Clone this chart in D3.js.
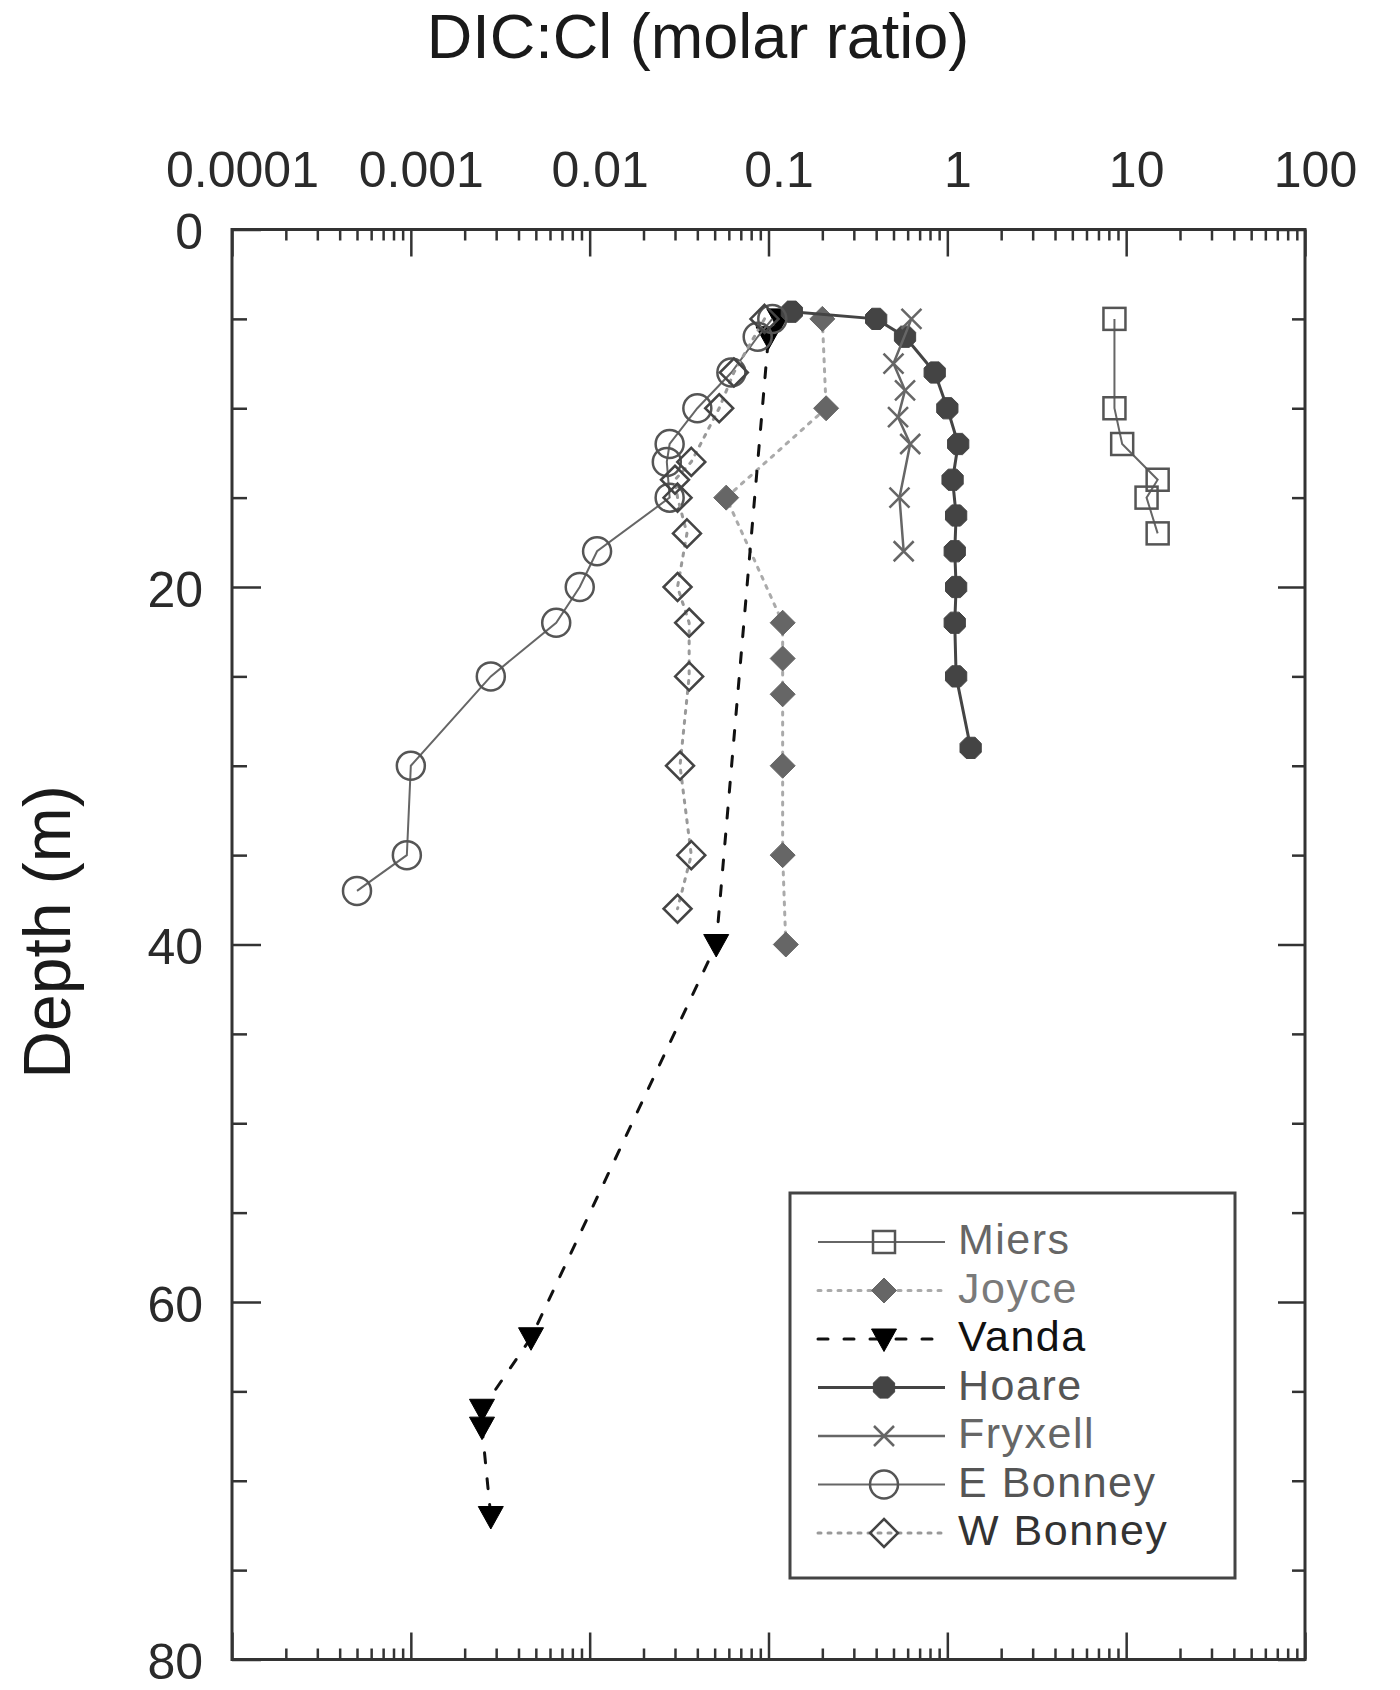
<!DOCTYPE html>
<html>
<head>
<meta charset="utf-8">
<script src="https://cdn.jsdelivr.net/npm/d3@7"></script>
<style>
  html, body { margin: 0; padding: 0; background: #fff; }
  svg { display: block; }
  text { font-family: "Liberation Sans", Arial, Helvetica, sans-serif; }
</style>
</head>
<body>
<svg id="chart" width="1400" height="1690"></svg>
<script>
// ---------------- DATA ----------------
const xTickValues = [0.0001, 0.001, 0.01, 0.1, 1, 10, 100];
const xTickLabels = ["0.0001", "0.001", "0.01", "0.1", "1", "10", "100"];
const yTickValues = [0, 20, 40, 60, 80];
const yTickLabels = ["0", "20", "40", "60", "80"];

const miersDepth = [5, 10, 12, 14, 15, 17];
const miersRatio = [8.6, 8.6, 9.5, 15, 13, 15];

const joyceDepth = [5, 10, 15, 22, 24, 26, 30, 35, 40];
const joyceRatio = [0.2, 0.21, 0.058, 0.12, 0.12, 0.12, 0.12, 0.12, 0.125];

const vandaDepth = [5, 6, 40, 62, 66, 67, 72];
const vandaRatio = [0.115, 0.1, 0.051, 0.0047, 0.0025, 0.0025, 0.0028];

const hoareDepth = [4.6, 5, 6, 8, 10, 12, 14, 16, 18, 20, 22, 25, 29];
const hoareRatio = [0.135, 0.40, 0.58, 0.85, 1.0, 1.15, 1.07, 1.12, 1.1, 1.12, 1.1, 1.12, 1.35];

const fryxellDepth = [5, 7.5, 9, 10.5, 12, 15, 18];
const fryxellRatio = [0.63, 0.5, 0.58, 0.53, 0.62, 0.54, 0.57];

const eBonneyDepth = [5, 6, 8, 10, 12, 13, 15, 18, 20, 22, 25, 30, 35, 37];
const eBonneyRatio = [0.105, 0.087, 0.062, 0.040, 0.028, 0.027, 0.028, 0.011, 0.0088, 0.0065, 0.0028, 0.001, 0.00095, 0.0005];

const wBonneyDepth = [5, 8, 10, 13, 14, 15, 17, 20, 22, 25, 30, 35, 38];
const wBonneyRatio = [0.095, 0.064, 0.053, 0.037, 0.03, 0.031, 0.035, 0.031, 0.036, 0.036, 0.032, 0.037, 0.031];

const seriesNames = ["Miers", "Joyce", "Vanda", "Hoare", "Fryxell", "E Bonney", "W Bonney"];

// ---------------- STYLES ----------------
const styles = {
  "Miers":    { depth: miersDepth,   ratio: miersRatio,   marker: "square",   line: "#666", lw: 2,   dash: null,    mStroke: "#555", mFill: "none", text: "#666" },
  "Joyce":    { depth: joyceDepth,   ratio: joyceRatio,   marker: "diamondF", line: "#aaa", lw: 3,   dash: "3,7",   mStroke: "#666", mFill: "#666", text: "#7a7a7a" },
  "Vanda":    { depth: vandaDepth,   ratio: vandaRatio,   marker: "triDown",  line: "#111", lw: 3,   dash: "10,16", mStroke: "#000", mFill: "#000", text: "#111" },
  "Hoare":    { depth: hoareDepth,   ratio: hoareRatio,   marker: "octF",     line: "#444", lw: 3,   dash: null,    mStroke: "#444", mFill: "#444", text: "#555" },
  "Fryxell":  { depth: fryxellDepth, ratio: fryxellRatio, marker: "cross",    line: "#666", lw: 2.5, dash: null,    mStroke: "#666", mFill: "none", text: "#666" },
  "E Bonney": { depth: eBonneyDepth, ratio: eBonneyRatio, marker: "circle",   line: "#666", lw: 2,   dash: null,    mStroke: "#555", mFill: "none", text: "#555" },
  "W Bonney": { depth: wBonneyDepth, ratio: wBonneyRatio, marker: "diamond",  line: "#999", lw: 3,   dash: "3,7",   mStroke: "#444", mFill: "none", text: "#333" }
};

// ---------------- LAYOUT ----------------
const plotL = 232, plotR = 1305, plotT = 229.5, plotB = 1659.5;
const svg = d3.select("#chart");
svg.append("rect").attr("width", 1400).attr("height", 1690).attr("fill", "#fff");

const x = d3.scaleLog().domain([0.0001, 100]).range([plotL, plotR]);
const y = d3.scaleLinear().domain([0, 80]).range([plotT, plotB]);

const axisColor = "#333";
const tickFont = 50;

// minor tick positions from the scale itself
const xMinor = x.ticks().filter(v => !xTickValues.some(m => Math.abs(Math.log10(v) - Math.log10(m)) < 1e-9));
const yMinor = y.ticks(16).filter(v => !yTickValues.includes(v));

function styleAxis(g) {
  g.select(".domain").remove();
  g.selectAll(".tick line").attr("stroke", axisColor).attr("stroke-width", 2.5);
  g.selectAll(".tick text").attr("fill", "#2a2a2a").style("font-size", tickFont + "px")
    .style("font-family", "'Liberation Sans', Arial, Helvetica, sans-serif");
}

// Top axis (labels above, ticks inward)
svg.append("g").attr("transform", `translate(0,${plotT})`)
  .call(d3.axisTop(x).tickValues(xTickValues).tickFormat((d, i) => xTickLabels[i]).tickSizeInner(-27).tickSizeOuter(0).tickPadding(43))
  .call(styleAxis)
  .call(g => g.selectAll(".tick text").attr("x", 10));
svg.append("g").attr("transform", `translate(0,${plotT})`)
  .call(d3.axisTop(x).tickValues(xMinor).tickFormat("").tickSizeInner(-11).tickSizeOuter(0))
  .call(styleAxis);

// Bottom axis (ticks only)
svg.append("g").attr("transform", `translate(0,${plotB})`)
  .call(d3.axisBottom(x).tickValues(xTickValues).tickFormat("").tickSizeInner(-27).tickSizeOuter(0))
  .call(styleAxis);
svg.append("g").attr("transform", `translate(0,${plotB})`)
  .call(d3.axisBottom(x).tickValues(xMinor).tickFormat("").tickSizeInner(-11).tickSizeOuter(0))
  .call(styleAxis);

// Left axis
svg.append("g").attr("transform", `translate(${plotL},0)`)
  .call(d3.axisLeft(y).tickValues(yTickValues).tickFormat((d, i) => yTickLabels[i]).tickSizeInner(-29).tickSizeOuter(0).tickPadding(29))
  .call(styleAxis)
  .call(g => g.selectAll(".tick text").attr("dy", "0.38em"));
svg.append("g").attr("transform", `translate(${plotL},0)`)
  .call(d3.axisLeft(y).tickValues(yMinor).tickFormat("").tickSizeInner(-15).tickSizeOuter(0))
  .call(styleAxis);

// Right axis
svg.append("g").attr("transform", `translate(${plotR},0)`)
  .call(d3.axisRight(y).tickValues(yTickValues).tickFormat("").tickSizeInner(-27).tickSizeOuter(0))
  .call(styleAxis);
svg.append("g").attr("transform", `translate(${plotR},0)`)
  .call(d3.axisRight(y).tickValues(yMinor).tickFormat("").tickSizeInner(-13).tickSizeOuter(0))
  .call(styleAxis);

// Frame
svg.append("rect")
  .attr("x", plotL).attr("y", plotT).attr("width", plotR - plotL).attr("height", plotB - plotT)
  .attr("fill", "none").attr("stroke", axisColor).attr("stroke-width", 3);

// Titles
svg.append("text").attr("x", 698).attr("y", 58).attr("text-anchor", "middle")
  .style("font-size", "63px").attr("fill", "#1a1a1a").text("DIC:Cl (molar ratio)");
svg.append("text").attr("transform", "translate(70,932) rotate(-90)").attr("text-anchor", "middle")
  .style("font-size", "66px").attr("fill", "#1a1a1a").text("Depth (m)");

// ---------------- MARKERS ----------------
function drawMarker(g, type, cx, cy, st) {
  switch (type) {
    case "square":
      g.append("rect").attr("x", cx - 11).attr("y", cy - 11).attr("width", 22).attr("height", 22)
        .attr("fill", st.mFill).attr("stroke", st.mStroke).attr("stroke-width", 2.5);
      break;
    case "diamondF":
      g.append("path").attr("d", `M${cx},${cy - 12.5}L${cx + 12.5},${cy}L${cx},${cy + 12.5}L${cx - 12.5},${cy}Z`)
        .attr("fill", st.mFill).attr("stroke", st.mStroke).attr("stroke-width", 1);
      break;
    case "diamond":
      g.append("path").attr("d", `M${cx},${cy - 14}L${cx + 14},${cy}L${cx},${cy + 14}L${cx - 14},${cy}Z`)
        .attr("fill", st.mFill).attr("stroke", st.mStroke).attr("stroke-width", 2.5);
      break;
    case "triDown":
      g.append("path").attr("d", `M${cx - 12.5},${cy - 10}L${cx + 12.5},${cy - 10}L${cx},${cy + 12.5}Z`)
        .attr("fill", st.mFill).attr("stroke", st.mStroke).attr("stroke-width", 1);
      break;
    case "octF": {
      const r = 11.5, pts = [];
      for (let k = 0; k < 8; k++) {
        const a = Math.PI / 8 + k * Math.PI / 4;
        pts.push([cx + r * Math.cos(a), cy + r * Math.sin(a)]);
      }
      g.append("path").attr("d", "M" + pts.map(p => p.join(",")).join("L") + "Z")
        .attr("fill", st.mFill).attr("stroke", st.mStroke).attr("stroke-width", 1);
      break;
    }
    case "cross":
      g.append("path").attr("d", `M${cx - 10},${cy - 10}L${cx + 10},${cy + 10}M${cx - 10},${cy + 10}L${cx + 10},${cy - 10}`)
        .attr("fill", "none").attr("stroke", st.mStroke).attr("stroke-width", 2.5);
      break;
    case "circle":
      g.append("circle").attr("cx", cx).attr("cy", cy).attr("r", 14)
        .attr("fill", st.mFill).attr("stroke", st.mStroke).attr("stroke-width", 2.5);
      break;
  }
}

// ---------------- SERIES ----------------
const lineGen = d3.line().x(d => x(d.r)).y(d => y(d.d));
const plot = svg.append("g");

seriesNames.forEach(name => {
  const st = styles[name];
  const pts = st.depth.map((d, i) => ({ d: d, r: st.ratio[i] }));
  const g = plot.append("g").attr("class", "series");
  g.append("path").datum(pts).attr("d", lineGen)
    .attr("fill", "none").attr("stroke", st.line).attr("stroke-width", st.lw)
    .attr("stroke-dasharray", st.dash).attr("stroke-linecap", st.dash ? "round" : "butt");
  pts.forEach(p => drawMarker(g, st.marker, x(p.r), y(p.d), st));
});

// ---------------- LEGEND ----------------
const leg = svg.append("g");
leg.append("rect").attr("x", 790).attr("y", 1193).attr("width", 445).attr("height", 385)
  .attr("fill", "#fff").attr("stroke", "#444").attr("stroke-width", 3);
seriesNames.forEach((name, i) => {
  const st = styles[name];
  const cy = 1242 + i * 48.5;
  leg.append("line").attr("x1", 818).attr("x2", 945).attr("y1", cy).attr("y2", cy)
    .attr("stroke", st.line).attr("stroke-width", st.lw)
    .attr("stroke-dasharray", st.dash).attr("stroke-linecap", st.dash ? "round" : "butt");
  drawMarker(leg, st.marker, 884, cy, st);
  leg.append("text").attr("x", 958).attr("y", cy + 12).style("font-size", "43px")
    .style("letter-spacing", "1.5px")
    .attr("fill", st.text).text(name);
});
</script>
</body>
</html>
